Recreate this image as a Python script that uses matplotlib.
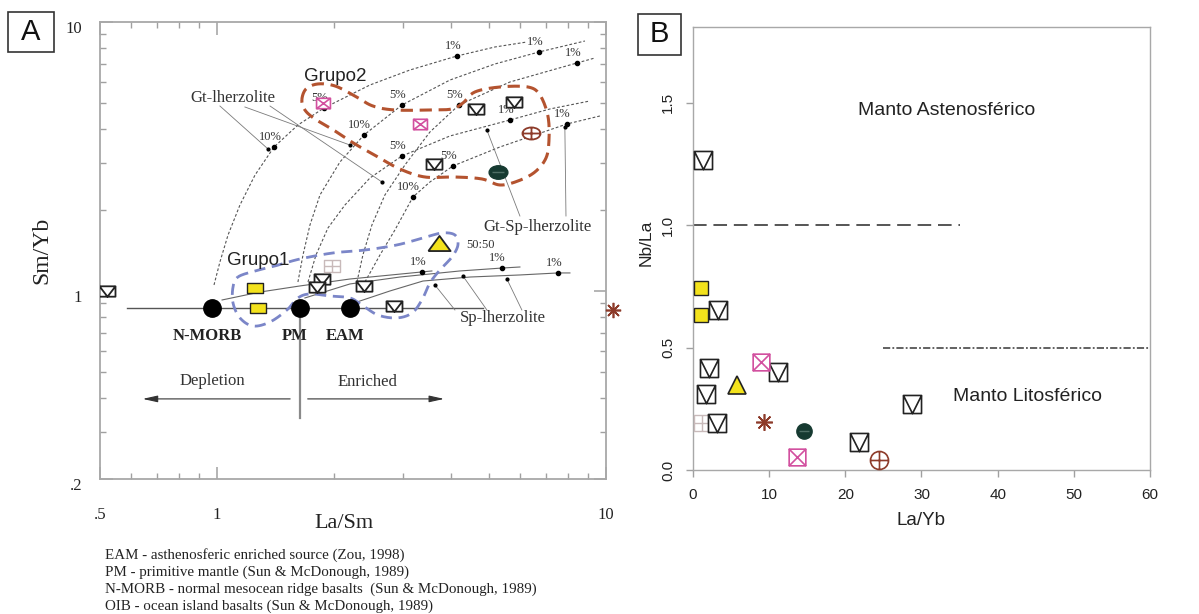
import numpy as np
import matplotlib
matplotlib.use("Agg")
import matplotlib.pyplot as plt
from matplotlib.path import Path
from matplotlib.patches import Rectangle
from matplotlib.ticker import FixedLocator, NullFormatter
from matplotlib.transforms import ScaledTranslation

plt.rcParams['font.family'] = ['Liberation Serif', 'DejaVu Serif']
SANS = ['Liberation Sans', 'DejaVu Sans']

# ---------------- Panel A : La/Sm vs Sm/Yb ----------------
# reference reservoirs
ref_names = ['N-MORB', 'PM', 'EAM']
ref_la_sm = [0.97, 1.633, 2.20]
ref_sm_yb = [0.865, 0.865, 0.865]

# samples
env_la_sm = [0.521, 1.861, 1.807, 2.386, 2.849, 4.631, 5.80, 3.61]
env_sm_yb = [1.00, 1.108, 1.035, 1.044, 0.880, 4.750, 5.043, 2.966]
pinkx_la_sm = [1.872, 3.323]
pinkx_sm_yb = [5.00, 4.177]
grid_la_sm = [1.974]
grid_sm_yb = [1.239]
yellow_la_sm = [1.252, 1.274]
yellow_sm_yb = [1.026, 0.865]
tri_la_sm = [3.718]
tri_sm_yb = [1.508]
dark_la_sm = [5.277]
dark_sm_yb = [2.770]
cplus_la_sm = [6.41]
cplus_sm_yb = [3.867]
star_la_sm = [10.42]
star_sm_yb = [0.85]

# melting curves (garnet lherzolite)
gt1_x = [0.982, 1.017, 1.067, 1.145, 1.252, 1.401, 1.614, 1.883, 2.472, 3.132, 4.137, 5.18, 6.262]
gt1_y = [1.053, 1.282, 1.615, 2.088, 2.699, 3.430, 4.141, 4.789, 5.832, 6.630, 7.475, 8.074, 8.427]
gt2_x = [1.614, 1.663, 1.733, 1.839, 2.07, 2.386, 2.988, 3.969, 5.18, 6.724, 8.827]
gt2_y = [1.080, 1.361, 1.759, 2.275, 3.018, 3.802, 4.914, 6.085, 6.981, 7.736, 8.499]
gt3_x = [2.289, 2.371, 2.501, 2.701, 3.041, 3.526, 4.187, 5.662, 8.418, 9.365]
gt3_y = [1.080, 1.361, 1.759, 2.275, 2.941, 3.900, 4.914, 5.984, 7.041, 7.349]
# garnet-spinel lherzolite
gtsp1_x = [1.713, 1.796, 1.928, 2.132, 2.472, 2.988, 3.969, 5.662, 7.176, 9.09]
gtsp1_y = [1.080, 1.361, 1.715, 2.088, 2.631, 3.176, 3.769, 4.322, 4.750, 5.086]
gtsp2_x = [2.40, 2.623, 2.866, 3.189, 3.526, 4.041, 5.335, 7.932, 9.645]
gtsp2_y = [1.080, 1.361, 1.686, 2.236, 2.542, 2.916, 3.430, 4.177, 4.473]
# spinel lherzolite
sp1_x = [1.03, 1.289, 1.633, 2.196, 3.363, 3.567]
sp1_y = [0.926, 0.991, 1.044, 1.108, 1.177, 1.187]
sp2_x = [1.682, 2.196, 2.952, 4.211, 5.399, 6.007]
sp2_y = [0.942, 1.062, 1.127, 1.187, 1.217, 1.228]
sp3_x = [2.289, 2.782, 3.383, 4.47, 6.007, 7.523, 8.077]
sp3_y = [0.910, 1.00, 1.089, 1.127, 1.147, 1.167, 1.167]

# melt fraction marks
melt_x = [1.401, 1.883, 4.137, 2.386, 2.988, 6.724, 2.988, 5.662, 4.187, 8.418,
          3.189, 4.041, 7.932, 3.363, 5.399, 7.523]
melt_y = [3.43, 4.789, 7.475, 3.802, 4.914, 7.736, 3.176, 4.322, 4.914, 7.041,
          2.236, 2.916, 4.177, 1.177, 1.217, 1.167]
melt_lab = ['10%', '5%', '1%', '10%', '5%', '1%', '5%', '1%', '5%', '1%',
            '10%', '5%', '1%', '1%', '1%', '1%']

# group outlines
grupo2_x = [1.652, 1.693, 1.817, 2.01, 2.262, 2.515, 2.866, 3.526, 4.017, 4.287, 4.602,
            5.335, 6.30, 6.763, 7.09, 7.135, 7.01, 6.567, 5.938, 5.335, 4.797, 4.089,
            3.424, 2.952, 2.592, 2.262, 2.01, 1.785, 1.682]
grupo2_y = [5.129, 5.636, 5.884, 5.784, 5.307, 4.872, 4.709, 4.709, 4.750, 5.00, 5.494,
            5.733, 5.733, 5.353, 4.473, 3.641, 3.122, 2.770, 2.564, 2.478, 2.609, 2.653,
            2.653, 2.841, 3.149, 3.520, 3.934, 4.359, 4.709]
grupo1_x = [1.131, 1.252, 1.409, 1.633, 1.986, 2.40, 2.90, 3.383, 3.786, 4.089, 4.162,
            4.017, 3.741, 3.526, 3.363, 3.17, 2.90, 2.592, 2.358, 2.196, 1.951, 1.733,
            1.614, 1.512, 1.368, 1.237, 1.145, 1.099, 1.099]
grupo1_y = [1.127, 1.187, 1.239, 1.315, 1.385, 1.420, 1.483, 1.574, 1.643, 1.615, 1.483,
            1.338, 1.197, 1.071, 0.926, 0.828, 0.794, 0.814, 0.887, 0.942, 0.958, 0.975,
            0.942, 0.85, 0.767, 0.741, 0.794, 0.902, 1.035]

# ---------------- Panel B : La/Yb vs Nb/La ----------------
env_la_yb = [1.3, 3.3, 2.1, 1.7, 3.2, 11.1, 21.8, 28.7]
env_nb_la = [1.265, 0.653, 0.416, 0.31, 0.192, 0.40, 0.114, 0.27]
yellow_la_yb = [1.0, 1.0]
yellow_nb_la = [0.743, 0.633]
grid_la_yb = [1.2]
grid_nb_la = [0.19]
tri_la_yb = [5.8]
tri_nb_la = [0.347]
pinkx_la_yb = [8.9, 13.7]
pinkx_nb_la = [0.44, 0.053]
star_la_yb = [9.3]
star_nb_la = [0.196]
dark_la_yb = [14.6]
dark_nb_la = [0.159]
cplus_la_yb = [24.4]
cplus_nb_la = [0.041]

asthen_limit = 1.0
lithos_limit = 0.5


def closed_spline(xs, ys, n=16):
    # periodic Catmull-Rom through the outline vertices, in log space
    P = np.log10(np.column_stack([xs, ys]))
    m = len(P)
    t = np.linspace(0, 1, n, endpoint=False)[:, None]
    segs = []
    for i in range(m):
        p0, p1, p2, p3 = P[i - 1], P[i], P[(i + 1) % m], P[(i + 2) % m]
        segs.append(0.5 * (2 * p1 + (-p0 + p2) * t + (2 * p0 - 5 * p1 + 4 * p2 - p3) * t ** 2
                           + (-p0 + 3 * p1 - 3 * p2 + p3) * t ** 3))
    out = np.vstack(segs + [segs[0][:1]])
    return 10 ** out[:, 0], 10 ** out[:, 1]


def boxed(k, strokes):
    parts = [Path([(-1, -k), (1, -k), (1, k), (-1, k), (-1, -k)],
                  [Path.MOVETO, Path.LINETO, Path.LINETO, Path.LINETO, Path.CLOSEPOLY])]
    for s in strokes:
        parts.append(Path(np.array(s, float) * [1, k]))
    return Path.make_compound_path(*parts)


def ellipse(k, strokes=()):
    c = Path.unit_circle()
    parts = [Path(c.vertices * [1, k], c.codes)]
    for s in strokes:
        parts.append(Path(np.array(s, float) * [1, k]))
    return Path.make_compound_path(*parts)


V = [[(-1, 1), (0, -1), (1, 1)]]
X = [[(-1, -1), (1, 1)], [(-1, 1), (1, -1)]]
PLUS = [[(-1, 0), (1, 0)], [(0, -1), (0, 1)]]

env_A, env_B = boxed(0.65, V), boxed(1.0, V)
pinkx_A, pinkx_B = boxed(0.75, X), boxed(1.0, X)
grid_A, grid_B = boxed(0.7, PLUS), boxed(1.0, PLUS)
rect_A = boxed(0.6, [])
tri_A = Path([(-1, -0.68), (1, -0.68), (0, 0.68), (-1, -0.68)])
dark_A = ellipse(0.72)
cplus_A, cplus_B = ellipse(0.67, PLUS), ellipse(1.0, PLUS)
dash_mark = Path([(-1, 0), (1, 0)])

PINK = '#d2509f'
BROWN = '#8d3b2a'
GRID = '#c8baba'
YELLOW = '#f3e21c'
DARK = '#163a31'
GREY = '#9a9a9a'

fig = plt.figure(figsize=(11.99, 6.14), dpi=100)
axA = fig.add_axes([100 / 1199, 1 - 479 / 614, 506 / 1199, 457 / 614])
axB = fig.add_axes([693 / 1199, 1 - 470 / 614, 457 / 1199, 443 / 614])

# ---- panel A ----
ax = axA
ax.set_xscale('log')
ax.set_yscale('log')
ax.set_xlim(0.5, 10)
ax.set_ylim(0.2, 10)

dash_kw = dict(color='#555555', lw=0.8, dashes=(2.5, 1.8), zorder=1)
for cx, cy in [(gt1_x, gt1_y), (gt2_x, gt2_y), (gt3_x, gt3_y), (gtsp1_x, gtsp1_y), (gtsp2_x, gtsp2_y)]:
    ax.plot(cx, cy, **dash_kw)
for cx, cy in [(sp1_x, sp1_y), (sp2_x, sp2_y), (sp3_x, sp3_y)]:
    ax.plot(cx, cy, color='#666666', lw=0.8, zorder=1)

ax.plot(melt_x, melt_y, 'o', ms=3, color='black', zorder=2)
for mx, my, lab in zip(melt_x, melt_y, melt_lab):
    ax.annotate(lab, (mx, my), xytext=(-3, 7), textcoords='offset points',
                ha='center', va='center', fontsize=9, color='#333333', zorder=2)

# reference line, PM divider and trend arrows
ax.plot([0.587, 4.826], [0.865, 0.865], color='#555555', lw=1.0, zorder=1)
ax.plot([1.633, 1.633], [0.865, 0.337], color='#8a8a8a', lw=1.6, zorder=1)
ax.annotate('', xy=(0.633, 0.397), xytext=(1.567, 0.397),
            arrowprops=dict(arrowstyle='-|>,head_length=0.9,head_width=0.2', color='#333333', lw=0.8))
ax.annotate('', xy=(3.899, 0.397), xytext=(1.682, 0.397),
            arrowprops=dict(arrowstyle='-|>,head_length=0.9,head_width=0.2', color='#333333', lw=0.8))
ax.text(0.97, 0.463, 'Depletion', ha='center', va='center', fontsize=12, color='#333333')
ax.text(2.443, 0.459, 'Enriched', ha='center', va='center', fontsize=12, color='#333333')

ax.plot(ref_la_sm, ref_sm_yb, 'o', ms=12.5, color='black', zorder=4)
for nx, ny, nm in zip(ref_la_sm, ref_sm_yb, ref_names):
    ax.text(nx - 0.03 * nx, 0.68, nm, ha='center', va='center', fontsize=12,
            fontweight='bold', color='#222222')

# group outlines
g2x, g2y = closed_spline(grupo2_x, grupo2_y)
ax.plot(g2x, g2y, color='#b4532f', lw=2.2, dashes=(4, 2.2), zorder=2)
g1x, g1y = closed_spline(grupo1_x, grupo1_y)
ax.plot(g1x, g1y, color='#7b86c8', lw=2.0, dashes=(4, 2.4), zorder=2)
ax.text(2.01, 6.245, 'Grupo2', ha='center', va='center', fontsize=13.5, family=SANS, color='#222222')
ax.text(1.274, 1.293, 'Grupo1', ha='center', va='center', fontsize=13.5, family=SANS, color='#222222')

# leader lines to the model curves
leader = dict(color='#7a7a7a', lw=0.6, zorder=1)
for (x0, y0), (x1, y1) in [((1.017, 4.872), (1.352, 3.372)), ((1.179, 4.831), (2.196, 3.489)),
                           ((1.368, 4.872), (2.654, 2.542)), ((6.007, 1.90), (4.94, 3.967)),
                           ((7.89, 1.90), (7.838, 4.072)), ((4.089, 0.85), (3.631, 1.053)),
                           ((4.94, 0.85), (4.287, 1.137)), ((6.077, 0.85), (5.561, 1.108))]:
    ax.plot([x0, x1], [y0, y1], **leader)
    ax.plot([x1], [y1], 'o', ms=2, color='black', zorder=2)
ax.text(1.099, 5.218, 'Gt-lherzolite', ha='center', va='center', fontsize=12, color='#333333')
ax.text(6.68, 1.729, 'Gt-Sp-lherzolite', ha='center', va='center', fontsize=12, color='#333333')
ax.text(5.43, 0.794, 'Sp-lherzolite', ha='center', va='center', fontsize=12, color='#333333')
ax.text(4.364, 1.483, '50:50', ha='left', va='center', fontsize=9, color='#333333')

# sample symbols
ax.plot(env_la_sm, env_sm_yb, ls='none', marker=env_A, ms=11.5, mfc='white', mec='#222222', mew=1.3, zorder=5)
ax.plot(pinkx_la_sm, pinkx_sm_yb, ls='none', marker=pinkx_A, ms=10, mfc='white', mec=PINK, mew=1.2, zorder=5)
ax.plot(grid_la_sm, grid_sm_yb, ls='none', marker=grid_A, ms=12, mfc='white', mec=GRID, mew=1.0, zorder=5)
ax.plot(yellow_la_sm, yellow_sm_yb, ls='none', marker=rect_A, ms=12, mfc=YELLOW, mec='#222222', mew=1.0, zorder=5)
ax.plot(tri_la_sm, tri_sm_yb, ls='none', marker=tri_A, ms=16, mfc=YELLOW, mec='#222222', mew=1.3, zorder=5)
ax.plot(dark_la_sm, dark_sm_yb, ls='none', marker=dark_A, ms=13.5, mfc=DARK, mec=DARK, zorder=5)
ax.plot(dark_la_sm, dark_sm_yb, ls='none', marker=dash_mark, ms=8, mec='#4f6f66', mew=1.0, zorder=6)
ax.plot(cplus_la_sm, cplus_sm_yb, ls='none', marker=cplus_A, ms=13, mfc='white', mec=BROWN, mew=1.3, zorder=5)
ax.plot(star_la_sm, star_sm_yb, ls='none', marker=(8, 2, 0), ms=11, mec=BROWN, mew=1.2, zorder=6, clip_on=False)

for s in ax.spines.values():
    s.set_color('#a8a8a8')
    s.set_linewidth(1.3)
ax.xaxis.set_major_locator(FixedLocator([0.5, 1, 10]))
ax.xaxis.set_minor_locator(FixedLocator([0.6, 0.7, 0.8, 0.9, 2, 3, 4, 5, 6, 7, 8, 9]))
ax.yaxis.set_major_locator(FixedLocator([0.2, 1, 10]))
ax.yaxis.set_minor_locator(FixedLocator([0.3, 0.4, 0.5, 0.6, 0.7, 0.8, 0.9, 2, 3, 4, 5, 6, 7, 8, 9]))
ax.xaxis.set_minor_formatter(NullFormatter())
ax.yaxis.set_minor_formatter(NullFormatter())
ax.set_xticklabels(['.5', '1', '10'])
ax.set_yticklabels(['.2', '1', '10'])
ax.tick_params(which='both', direction='in', top=True, right=True, color='#a0a0a0', labelsize=12,
               labelcolor='#222222')
ax.tick_params(which='major', length=9, width=1.1)
ax.tick_params(which='minor', length=4.5, width=1.0)
ax.tick_params(axis='x', pad=20)
ax.tick_params(axis='y', pad=13)
shift = ScaledTranslation(0, -0.05, fig.dpi_scale_trans)
for lab in ax.get_yticklabels():
    lab.set_transform(lab.get_transform() + shift)
ax.text(0.482, -0.0963, 'La/Sm', transform=ax.transAxes, ha='center', va='center', fontsize=16, color='#222222')
ax.text(-0.1146, 0.50, 'Sm/Yb', transform=ax.transAxes, ha='center', va='center', fontsize=17,
        rotation=90, color='#222222')

# ---- panel B ----
ax = axB
ax.set_xlim(0, 60)
ax.set_ylim(0, 1.81)
ax.plot([0, 35], [asthen_limit, asthen_limit], color='#555555', lw=1.4, dashes=(7, 3.5), zorder=1)
ax.plot([25, 60], [lithos_limit, lithos_limit], color='#555555', lw=1.3, dashes=(4, 1.2, 1, 1.2), zorder=1)
ax.text(33.3, 1.47, 'Manto Astenosférico', ha='center', va='center', fontsize=14, family=SANS, color='#222222')
ax.text(43.9, 0.30, 'Manto Litosférico', ha='center', va='center', fontsize=14, family=SANS, color='#222222')

ax.plot(env_la_yb, env_nb_la, ls='none', marker=env_B, ms=13, mfc='white', mec='#222222', mew=1.2, zorder=5)
ax.plot(yellow_la_yb, yellow_nb_la, ls='none', marker='s', ms=10.5, mfc=YELLOW, mec='#222222', mew=1.0, zorder=5)
ax.plot(grid_la_yb, grid_nb_la, ls='none', marker=grid_B, ms=11, mfc='white', mec=GRID, mew=1.0, zorder=4)
ax.plot(tri_la_yb, tri_nb_la, ls='none', marker='^', ms=13, mfc=YELLOW, mec='#222222', mew=1.2, zorder=5)
ax.plot(pinkx_la_yb, pinkx_nb_la, ls='none', marker=pinkx_B, ms=12, mfc='white', mec=PINK, mew=1.2, zorder=5)
ax.plot(star_la_yb, star_nb_la, ls='none', marker=(8, 2, 0), ms=12, mec=BROWN, mew=1.2, zorder=5)
ax.plot(dark_la_yb, dark_nb_la, ls='none', marker='o', ms=11, mfc=DARK, mec=DARK, zorder=5)
ax.plot(dark_la_yb, dark_nb_la, ls='none', marker=dash_mark, ms=7, mec='#4f6f66', mew=1.0, zorder=6)
ax.plot(cplus_la_yb, cplus_nb_la, ls='none', marker=cplus_B, ms=13, mfc='white', mec=BROWN, mew=1.2, zorder=5)

for s in ax.spines.values():
    s.set_color('#a8a8a8')
    s.set_linewidth(1.0)
ax.set_xticks([0, 10, 20, 30, 40, 50, 60])
ax.set_yticks([0.0, 0.5, 1.0, 1.5])
ax.set_yticklabels(['0.0', '0.5', '1.0', '1.5'])
ax.tick_params(direction='out', length=5, width=1.0, color='#a0a0a0', labelsize=11, labelcolor='#222222')
ax.tick_params(axis='x', pad=8)
ax.tick_params(axis='y', pad=8, labelrotation=90)
for lab in ax.get_xticklabels() + ax.get_yticklabels():
    lab.set_family(SANS)
for lab in ax.get_yticklabels():
    lab.set_va('center')
ax.text(0.5, -0.115, 'La/Yb', transform=ax.transAxes, ha='center', va='center', fontsize=13.5,
        family=SANS, color='#222222')
ax.text(-0.103, 0.512, 'Nb/La', transform=ax.transAxes, ha='center', va='center', fontsize=12.5,
        family=SANS, rotation=90, color='#222222')

# panel letters
for (x0, y0, w, h), letter in [((8, 12, 46, 40), 'A'), ((638, 14, 43, 41), 'B')]:
    fig.patches.append(Rectangle((x0 / 1199, 1 - (y0 + h) / 614), w / 1199, h / 614,
                                 transform=fig.transFigure, fill=False, ec='#333333', lw=1.2))
    fig.text((x0 + w / 2) / 1199, 1 - (y0 + h / 2) / 614, letter, ha='center', va='center',
             fontsize=21, family=SANS, color='#111111')

notes = ['EAM - asthenosferic enriched source (Zou, 1998)',
         'PM - primitive mantle (Sun & McDonough, 1989)',
         'N-MORB - normal mesocean ridge basalts  (Sun & McDonough, 1989)',
         'OIB - ocean island basalts (Sun & McDonough, 1989)']
for i, line in enumerate(notes):
    fig.text(105 / 1199, 1 - (555 + 17 * i) / 614, line, ha='left', va='center', fontsize=10.8,
             color='#222222')

fig.savefig('out.png', dpi=100)
